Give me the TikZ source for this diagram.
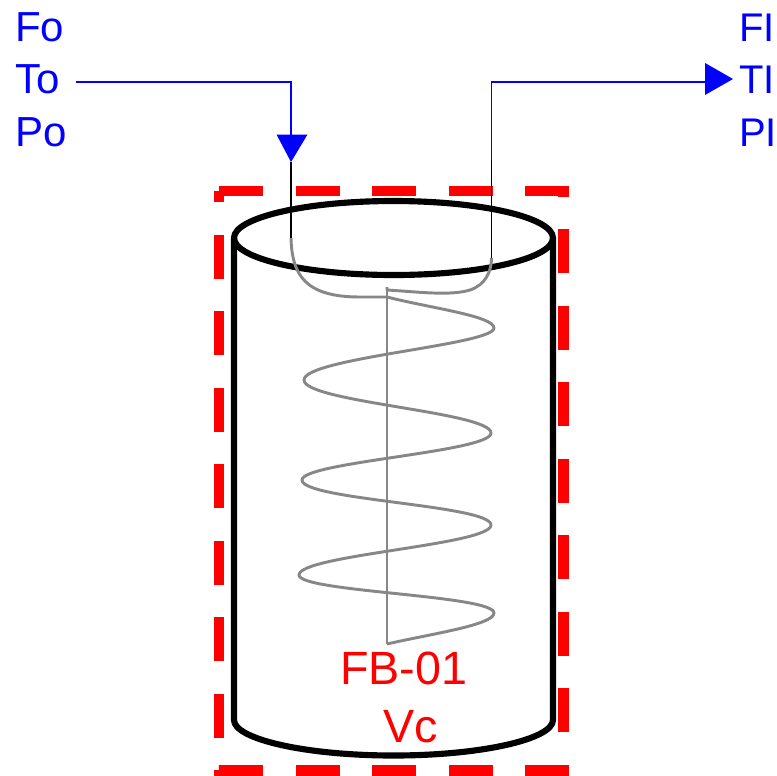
\documentclass[tikz,border=0pt]{standalone}
\usepackage{fontspec}
\setmainfont{Liberation Sans}
\definecolor{flowblue}{RGB}{0,0,255}
\definecolor{framered}{RGB}{255,0,0}
\definecolor{coilgray}{RGB}{135,135,135}
\tikzset{
  flowlabel/.style={anchor=base west,inner sep=0pt,text=flowblue,font=\fontsize{31.5pt}{36pt}\selectfont},
  outlabel/.style={anchor=base west,inner sep=0pt,text=flowblue,font=\fontsize{30pt}{36pt}\selectfont},
  redlabel/.style={anchor=base west,inner sep=0pt,text=framered,font=\fontsize{35pt}{40pt}\selectfont},
  flowline/.style={draw=flowblue,line width=1.3pt},
  tiphead/.style={fill=flowblue,draw=none},
  pipeline/.style={draw=black,line width=1.3pt},
  coilline/.style={draw=coilgray,line width=2.2pt,line join=round},
  vessel/.style={draw=black,line width=4.6pt,line join=round},
  frameline/.style={draw=framered,line width=8.2pt,dash pattern=on 33pt off 24.4pt,line join=miter}
}
\begin{document}
\begin{tikzpicture}[x=0.75pt,y=-0.75pt]
\useasboundingbox (0,0) rectangle (777,775);
% frame
\draw[frameline] (219,191) -- (563.5,191) -- (563.5,770.5) -- (219,770.5) -- cycle;
% vessel
\draw[vessel] (393.5,238) ellipse [x radius=159.5,y radius=37];
\draw[vessel] (234,238) -- (234,720) .. controls (234,739) and (305,755.5) .. (393.5,755.5)
  .. controls (482,755.5) and (553,739) .. (553,720) -- (553,238);
% labels
\node[flowlabel] (fo) at (15,41) {Fo};
\node[flowlabel] (to) at (15,93) {To};
\node[flowlabel] (po) at (15,146) {Po};
\node[outlabel] (fi) at (739,41) {FI};
\node[outlabel] (ti) at (739,93) {TI};
\node[outlabel] (pi) at (739,146) {PI};
\node[redlabel] (fb) at (340,684) {FB-01};
\node[redlabel] (vc) at (383,742) {Vc};
% coordinates
\coordinate (inbend) at (291,82);
\coordinate (intip) at (291,162);
\coordinate (inlow) at (291,238);
\coordinate (outlow) at (491.5,258);
\coordinate (outjoin) at (491.5,160);
\coordinate (outbend) at (491.5,82);
\coordinate (outbase) at (705,82);
\coordinate (coiltop) at (387,287);
\coordinate (coilbot) at (387,644);
% pipes
\draw[pipeline] (intip) -- (inlow);
\draw[pipeline] (outjoin) -- (outlow);
% blue connectors
\draw[flowline] (76,82) -- (inbend) -- (291,135);
\fill[tiphead] (276.5,134.5) -- (307.5,134.5) -- (intip) -- cycle;
\draw[flowline] (outjoin) -- (outbend) -- (outbase);
\fill[tiphead] (705,63) -- (733,79) -- (705,95) -- cycle;
% coil
\draw[coilline] (coiltop) -- (coilbot);
\draw[coilline] (inlow) .. controls (292,275) and (305,297) .. (360,297) -- (387,297)
  .. controls (430,308) and (494,316) .. (494,328)
  .. controls (494,345) and (304,358) .. (304,380)
  .. controls (304,402) and (491,412) .. (491,433)
  .. controls (491,452) and (302,462) .. (302,480)
  .. controls (302,500) and (491,505) .. (491,525)
  .. controls (491,545) and (299,555) .. (299,575)
  .. controls (299,592) and (494,595) .. (494,613)
  .. controls (494,625) and (430,634) .. (coilbot);
\draw[coilline] (coiltop) -- (387,290) .. controls (420,292) and (450,296) .. (470,290)
  .. controls (485,285) and (491.5,272) .. (outlow);
\end{tikzpicture}
\end{document}
